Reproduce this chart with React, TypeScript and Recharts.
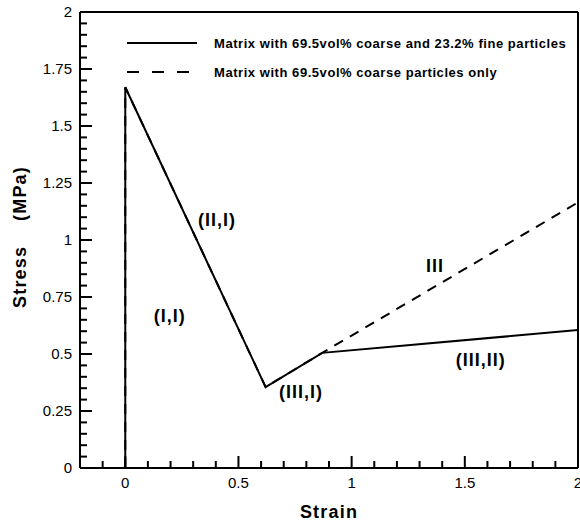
import { LineChart, Line, XAxis, YAxis, ReferenceLine, ReferenceDot } from 'recharts'

// strain / stress break points
const strainPts = [0, 0, 0.62, 0.87, 2.0]
const stressFine = [0, 1.67, 0.355, 0.505, 0.605]
const stressCoarse = [0, 1.67, 0.355, 0.505, 1.165]

const xMajor = [0, 0.5, 1, 1.5, 2]
const xLabels = ['0', '0.5', '1', '1.5', '2']
const xMinor = [-0.1, 0.1, 0.2, 0.3, 0.4, 0.6, 0.7, 0.8, 0.9, 1.1, 1.2, 1.3, 1.4, 1.6, 1.7, 1.8, 1.9]

const yMajor = [0, 0.25, 0.5, 0.75, 1, 1.25, 1.5, 1.75, 2]
const yLabels = ['0', '0.25', '0.5', '0.75', '1', '1.25', '1.5', '1.75', '2']
const yMinor = [
  0.05, 0.1, 0.15, 0.2, 0.3, 0.35, 0.4, 0.45, 0.55, 0.6, 0.65, 0.7,
  0.8, 0.85, 0.9, 0.95, 1.05, 1.1, 1.15, 1.2, 1.3, 1.35, 1.4, 1.45,
  1.55, 1.6, 1.65, 1.7, 1.8, 1.85, 1.9, 1.95,
]

const regionLabels = ['(I,I)', '(II,I)', '(III,I)', 'III', '(III,II)']
const regionStrain = [0.197, 0.405, 0.776, 1.368, 1.57]
const regionStress = [0.667, 1.088, 0.333, 0.886, 0.474]

const seriesNames = [
  'Matrix with 69.5vol% coarse and 23.2% fine particles',
  'Matrix with 69.5vol% coarse particles only',
]

const fineData = strainPts.map((s, i) => ({ strain: s, stress: stressFine[i] }))
const coarseData = strainPts.map((s, i) => ({ strain: s, stress: stressCoarse[i] }))

const FONT = '"Liberation Sans", Arial, Helvetica, sans-serif'

function XTick(props: any) {
  const { x, y, payload } = props
  const i = xMajor.indexOf(payload.value)
  if (i < 0) return <line x1={x} x2={x} y1={y} y2={y - 7} stroke="#000" strokeWidth={2} />
  return (
    <g>
      <line x1={x} x2={x} y1={y} y2={y - 12} stroke="#000" strokeWidth={2} />
      <text x={x} y={y + 19.5} textAnchor="middle" fontSize={15} fill="#000">{xLabels[i]}</text>
    </g>
  )
}

function YTick(props: any) {
  const { x, y, payload } = props
  const i = yMajor.indexOf(payload.value)
  if (i < 0) return <line x1={x} x2={x + 7} y1={y} y2={y} stroke="#000" strokeWidth={2} />
  return (
    <g>
      <line x1={x} x2={x + 12} y1={y} y2={y} stroke="#000" strokeWidth={2} />
      <text x={x - 8} y={y + 5} textAnchor="end" fontSize={15} fill="#000">{yLabels[i]}</text>
    </g>
  )
}

export default function App() {
  return (
    <div style={{ position: 'absolute', left: 0, top: 0, width: 580, height: 523, background: '#fff', fontFamily: FONT }}>
      <LineChart
        width={580}
        height={523}
        margin={{ top: 12, right: 2, bottom: 0, left: 0 }}
        style={{ fontFamily: FONT }}
      >
        <XAxis
          dataKey="strain"
          type="number"
          domain={[-0.2, 2]}
          allowDataOverflow
          ticks={[...xMajor, ...xMinor]}
          interval={0}
          height={55}
          tickSize={0}
          tickMargin={0}
          tickLine={false}
          axisLine={{ stroke: '#000', strokeWidth: 2 }}
          tick={XTick}
          label={{
            content: () => (
              <text x={329} y={518} textAnchor="middle" fontSize={18} fontWeight="bold" letterSpacing={1.2} fill="#000">
                Strain
              </text>
            ),
          }}
        />
        <YAxis
          dataKey="stress"
          type="number"
          domain={[0, 2]}
          allowDataOverflow
          ticks={[...yMajor, ...yMinor]}
          interval={0}
          width={80}
          tickSize={0}
          tickMargin={0}
          tickLine={false}
          axisLine={{ stroke: '#000', strokeWidth: 2 }}
          tick={YTick}
          label={{
            content: () => (
              <text
                x={20}
                y={237}
                transform="rotate(-90 20 237)"
                textAnchor="middle"
                dominantBaseline="central"
                fontSize={18}
                fontWeight="bold"
                letterSpacing={1.2}
                fill="#000"
              >
                {'Stress\u00a0\u00a0\u00a0\u00a0(MPa)'}
              </text>
            ),
          }}
        />
        <ReferenceLine y={2} stroke="#000" strokeWidth={2} />
        <ReferenceLine x={2} stroke="#000" strokeWidth={2} />
        <Line
          data={coarseData}
          dataKey="stress"
          type="linear"
          stroke="#000"
          strokeWidth={2}
          strokeDasharray="10 8"
          dot={false}
          activeDot={false}
          isAnimationActive={false}
        />
        <Line
          data={fineData}
          dataKey="stress"
          type="linear"
          stroke="#000"
          strokeWidth={2}
          dot={false}
          activeDot={false}
          isAnimationActive={false}
        />
        {regionLabels.map((t, i) => (
          <ReferenceDot
            key={t}
            x={regionStrain[i]}
            y={regionStress[i]}
            r={0}
            shape={(p: any) => (
              <text
                x={p.cx}
                y={p.cy}
                textAnchor="middle"
                dominantBaseline="central"
                fontSize={18}
                fontWeight="bold"
                letterSpacing={1}
                fill="#000"
              >
                {t}
              </text>
            )}
          />
        ))}
      </LineChart>
      <svg
        width={580}
        height={100}
        style={{ position: 'absolute', left: 0, top: 0, pointerEvents: 'none' }}
      >
        {seriesNames.map((name, i) => (
          <g key={name}>
            <line
              x1={127}
              x2={197}
              y1={43 + i * 29}
              y2={43 + i * 29}
              stroke="#000"
              strokeWidth={2}
              strokeDasharray={i === 1 ? '12 13' : undefined}
            />
            <text x={214} y={47.5 + i * 29} fontSize={13} letterSpacing={0.55} fontWeight="bold" fill="#000">
              {name}
            </text>
          </g>
        ))}
      </svg>
    </div>
  )
}
